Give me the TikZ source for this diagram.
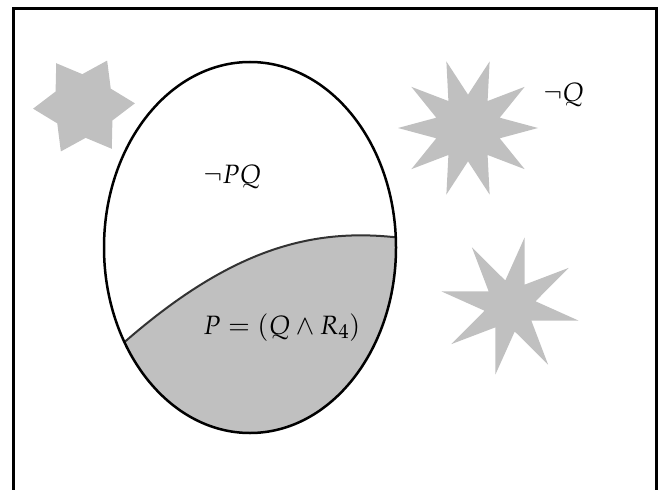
\documentclass[tikz,border=0pt]{standalone}
\usepackage{amsmath}
\usepackage{amssymb}
\usepackage{mathpazo}
\usepackage{xcolor}
\usepackage{tikz}
\usetikzlibrary{shapes, positioning, calc}

\definecolor{silver}{HTML}{C0C0C0}

\begin{document}
\begin{tikzpicture}[x=1pt, y=-1pt,
    starshape/.style={star, fill=silver, draw=none, inner sep=0pt, outer sep=0pt},
    mathlabel/.style={anchor=base west, inner sep=0pt, font=\fontsize{26.5}{32}\selectfont}]
    \useasboundingbox (0,0) rectangle (668,489);

    % Frame (runs off the bottom)
    \draw[line width=3pt] (13,520) -- (13,9) -- (656,9) -- (656,520);

    % Stars
    \node[starshape, star points=6, star point ratio=1.6, minimum size=102pt, shape border rotate=33] (hexstar) at (84,106) {};
    \node[starshape, star points=10, star point ratio=2.1, minimum size=140pt, shape border rotate=18] (tenstar) at (468,128) {};
    \node[starshape, star points=8, star point ratio=2.7, minimum size=140pt, shape border rotate=-12] (octstar) at (510,306) {};

    % Egg (ellipse) and its cut
    \node[ellipse, minimum width=292pt, minimum height=371pt, inner sep=0pt, outer sep=0pt] (egg) at (250,247.5) {};
    \coordinate (cutL) at (egg.217);
    \coordinate (cutR) at (egg.4);

    % Shaded part below the cut
    \begin{scope}
        \clip (egg.center) ellipse [x radius=146, y radius=185.5];
        \fill[silver] (cutL) .. controls (230,250) and (310,228) .. (cutR) -- ++(10,0) -- ++(0,220) -- ++(-330,0) -- cycle;
    \end{scope}
    \draw[line width=2pt, black!80] (cutL) .. controls (230,250) and (310,228) .. (cutR);
    \draw[line width=2.5pt] (egg.center) ellipse [x radius=146, y radius=185.5];

    % Labels
    \node[mathlabel] (notpq) at (203,183) {$\neg PQ$};
    \node[mathlabel] (pdef) at (203,334) {$P=(Q\wedge R_4)$};
    \node[mathlabel] (notq) at (543,102) {$\neg Q$};
\end{tikzpicture}
\end{document}
